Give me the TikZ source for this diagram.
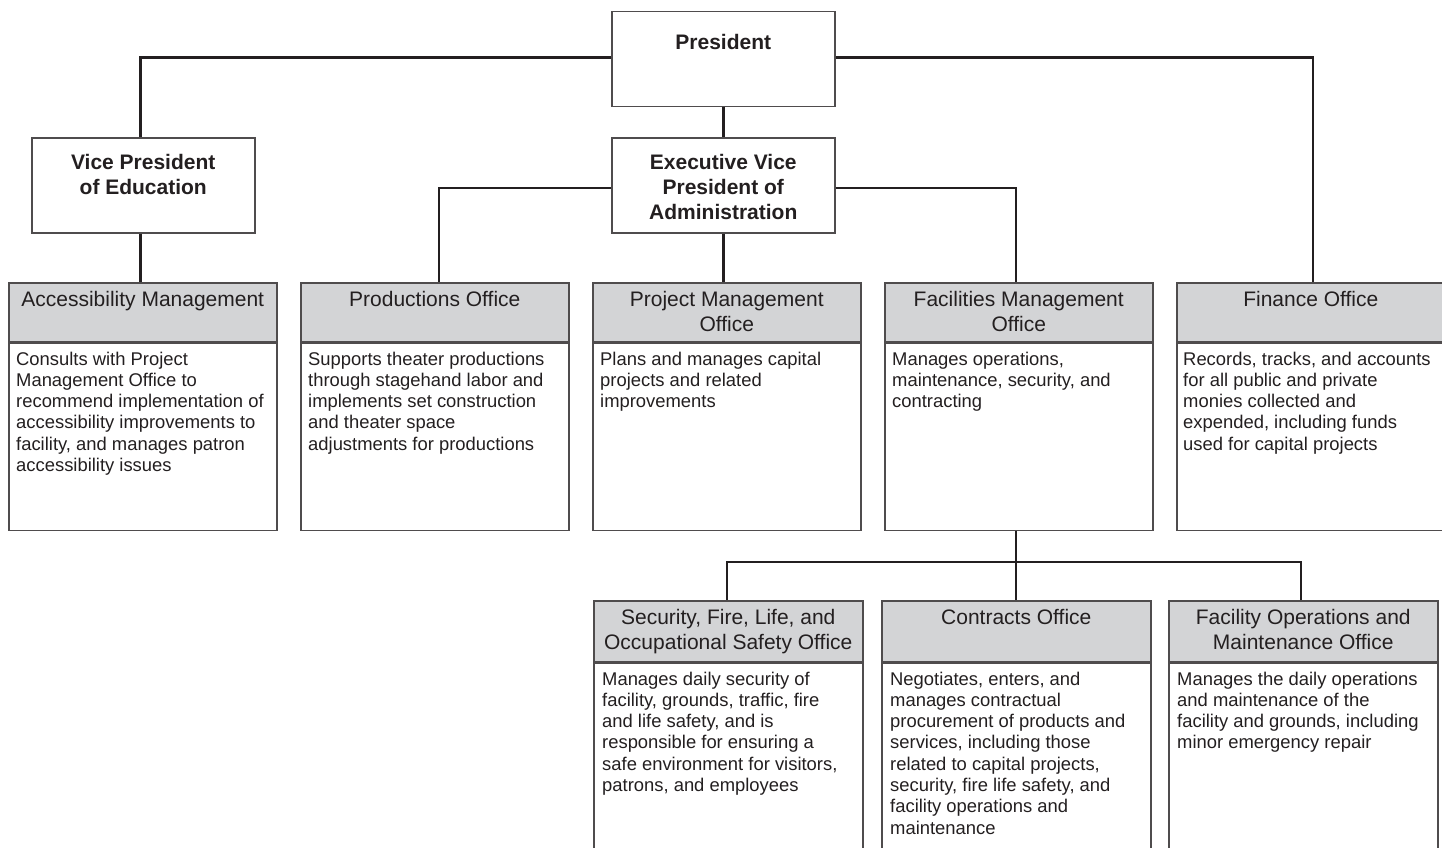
\documentclass[tikz,border=0pt]{standalone}
\usepackage{fontspec}
\setmainfont{Liberation Sans}
\definecolor{hdrgray}{RGB}{211,212,214}
\definecolor{ink}{RGB}{35,31,32}
\tikzset{
  box/.style={draw=ink!80, line width=1.5pt, fill=white, inner sep=0pt, anchor=north west},
  topbox/.style={box, minimum width=223, minimum height=95},
  hdr/.style={box, fill=hdrgray, minimum width=268, minimum height=59},
  bodybox/.style={box, minimum width=268, minimum height=187},
  lhdr/.style={box, fill=hdrgray, minimum width=269, minimum height=61},
  lbody/.style={box, minimum width=269, minimum height=210},
  boldtxt/.style={anchor=north, inner sep=0pt, align=center, text=ink, font=\fontsize{21}{25}\selectfont\bfseries},
  hdrtxt/.style={anchor=north, inner sep=0pt, align=center, text=ink, font=\fontsize{21}{25}\selectfont},
  bodytxt/.style={anchor=north west, inner sep=0pt, align=left, text=ink, font=\fontsize{18.4}{21.3}\selectfont},
  conn/.style={draw=ink, line width=2.5pt}
}
\begin{document}
\begin{tikzpicture}[x=1pt,y=-1pt]
\useasboundingbox (0,0) rectangle (1442,848);
\fill[white] (0,0) rectangle (1442,848);

% top level
\node[topbox] (pres) at (611,11) {};
\node[boldtxt] (prest) at ([yshift=-23]pres.north) {President};
\node[topbox] (vpe) at (31,137) {};
\node[boldtxt] (vpet) at ([yshift=-17]vpe.north) {Vice President\\of Education};
\node[topbox] (evp) at (611,137) {};
\node[boldtxt] (evpt) at ([yshift=-17]evp.north) {Executive Vice\\President of\\Administration};

% second row
\node[hdr] (acch) at (8,282) {};
\node[bodybox] (accb) at (acch.south west) {};
\node[hdrtxt] (accht) at ([yshift=-9]acch.north) {Accessibility Management};
\node[bodytxt] (accbt) at ([xshift=8,yshift=-9]accb.north west) {Consults with Project\\Management Office to\\recommend implementation of\\accessibility improvements to\\facility, and manages patron\\accessibility issues};

\node[hdr] (prodh) at (300,282) {};
\node[bodybox] (prodb) at (prodh.south west) {};
\node[hdrtxt] (prodht) at ([yshift=-9]prodh.north) {Productions Office};
\node[bodytxt] (prodbt) at ([xshift=8,yshift=-9]prodb.north west) {Supports theater productions\\through stagehand labor and\\implements set construction\\and theater space\\adjustments for productions};

\node[hdr] (pmoh) at (592,282) {};
\node[bodybox] (pmob) at (pmoh.south west) {};
\node[hdrtxt] (pmoht) at ([yshift=-9]pmoh.north) {Project Management\\Office};
\node[bodytxt] (pmobt) at ([xshift=8,yshift=-9]pmob.north west) {Plans and manages capital\\projects and related\\improvements};

\node[hdr] (fach) at (884,282) {};
\node[bodybox] (facb) at (fach.south west) {};
\node[hdrtxt] (facht) at ([yshift=-9]fach.north) {Facilities Management\\Office};
\node[bodytxt] (facbt) at ([xshift=8,yshift=-9]facb.north west) {Manages operations,\\maintenance, security, and\\contracting};

\node[hdr] (finh) at (1176,282) {};
\node[bodybox] (finb) at (finh.south west) {};
\node[hdrtxt] (finht) at ([yshift=-9]finh.north) {Finance Office};
\node[bodytxt] (finbt) at ([xshift=7,yshift=-9]finb.north west) {Records, tracks, and accounts\\for all public and private\\monies collected and\\expended, including funds\\used for capital projects};

% third row
\node[lhdr] (sech) at (593,600) {};
\node[lbody] (secb) at (sech.south west) {};
\node[hdrtxt] (secht) at ([yshift=-9]sech.north) {Security, Fire, Life, and\\Occupational Safety Office};
\node[bodytxt] (secbt) at ([xshift=9,yshift=-9]secb.north west) {Manages daily security of\\facility, grounds, traffic, fire\\and life safety, and is\\responsible for ensuring a\\safe environment for visitors,\\patrons, and employees};

\node[lhdr] (conh) at (881,600) {};
\node[lbody] (conb) at (conh.south west) {};
\node[hdrtxt] (conht) at ([yshift=-9]conh.north) {Contracts Office};
\node[bodytxt] (conbt) at ([xshift=9,yshift=-9]conb.north west) {Negotiates, enters, and\\manages contractual\\procurement of products and\\services, including those\\related to capital projects,\\security, fire life safety, and\\facility operations and\\maintenance};

\node[lhdr] (foh) at (1168,600) {};
\node[lbody] (fob) at (foh.south west) {};
\node[hdrtxt] (foht) at ([yshift=-9]foh.north) {Facility Operations and\\Maintenance Office};
\node[bodytxt] (fobt) at ([xshift=9,yshift=-9]fob.north west) {Manages the daily operations\\and maintenance of the\\facility and grounds, including\\minor emergency repair};

% connectors
\coordinate (bus) at (1016,562);
\draw[conn] ([yshift=1.5]pres.west) -| ([xshift=-3]vpe.north);
\draw[conn] ([yshift=1.5]pres.east) -| ([xshift=2]finh.north);
\draw[conn] (pres.south) -- (evp.north);
\draw[conn] ([xshift=-3]vpe.south) -- ([xshift=-3]vpe.south |- acch.north);
\draw[conn] ([yshift=-2.5]evp.west) -| ([xshift=4]prodh.north);
\draw[conn] (evp.south) -- (evp.south |- pmoh.north);
\draw[conn] ([yshift=-2.5]evp.east) -| ([xshift=-3]fach.north);
\draw[conn] ([xshift=-3]facb.south) -- ([xshift=-3]facb.south |- conh.north);
\draw[conn] ([xshift=-1.5]sech.north) -- ([xshift=-1.5]sech.north |- bus) -- ([xshift=-2.5]foh.north |- bus) -- ([xshift=-2.5]foh.north);
\end{tikzpicture}
\end{document}
